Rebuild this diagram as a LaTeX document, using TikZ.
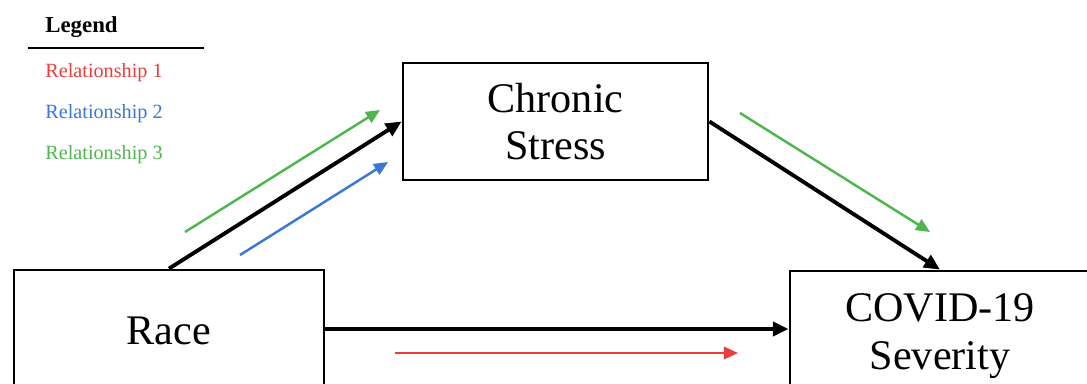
\documentclass[tikz,border=0pt]{standalone}
\usepackage{fontspec}
\setmainfont{Liberation Serif}
\usetikzlibrary{arrows.meta}

\definecolor{relred}{RGB}{234,62,58}
\definecolor{relblue}{RGB}{58,120,212}
\definecolor{relgreen}{RGB}{80,180,80}

\begin{document}
\begin{tikzpicture}[x=0.02cm,y=-0.02cm,
    varbox/.style={draw,line width=1.6pt,inner sep=0pt,align=center,
        font=\fontsize{24}{27}\selectfont},
    path/.style={line width=2.2pt,-{Triangle[length=9pt,width=8pt]}},
    relarrow/.style={line width=1.4pt,-{Triangle[length=8pt,width=7pt]}},
    legtext/.style={anchor=base west,inner sep=0pt,font=\fontsize{11.5}{13}\selectfont}]

   % Canvas
   \useasboundingbox (0,0) rectangle (1087,383);
   \clip (0,0) rectangle (1087,383);

   % Legend
   \node[legtext,font=\fontsize{13}{15}\selectfont\bfseries] (legend) at (45,32) {Legend};
   \draw[line width=1.1pt] (28,48) -- (204,48);
   \node[legtext,text=relred]   (rel1) at (45,77)  {Relationship 1};
   \node[legtext,text=relblue]  (rel2) at (45,118) {Relationship 2};
   \node[legtext,text=relgreen] (rel3) at (45,159) {Relationship 3};

   % Boxes
   \node[varbox,minimum width=6.2cm,minimum height=2.44cm] (race) at (169,331) {Race};
   \node[varbox,minimum width=6.1cm,minimum height=2.34cm] (stress) at (555.5,121.5) {Chronic\\Stress};
   \node[varbox,minimum width=6cm,minimum height=2.6cm] (covid) at (940,336) {COVID-19\\Severity};

   % Paths
   \draw[path] (race.north) -- (stress.west);
   \draw[path] (stress.east) -- (covid.north);
   \draw[path] (race.east |- 0,329) -- (covid.west |- 0,329);

   % Relationship arrows
   \coordinate (g1a) at (185,232);
   \coordinate (g1b) at (380,110);
   \coordinate (b1a) at (240,255);
   \coordinate (b1b) at (388,162);
   \coordinate (g2a) at (740,113);
   \coordinate (g2b) at (930,232);
   \coordinate (r1a) at (395,353);
   \coordinate (r1b) at (738,353);

   \draw[relarrow,relgreen] (g1a) -- (g1b);
   \draw[relarrow,relblue]  (b1a) -- (b1b);
   \draw[relarrow,relgreen] (g2a) -- (g2b);
   \draw[relarrow,relred]   (r1a) -- (r1b);

\end{tikzpicture}
\end{document}
